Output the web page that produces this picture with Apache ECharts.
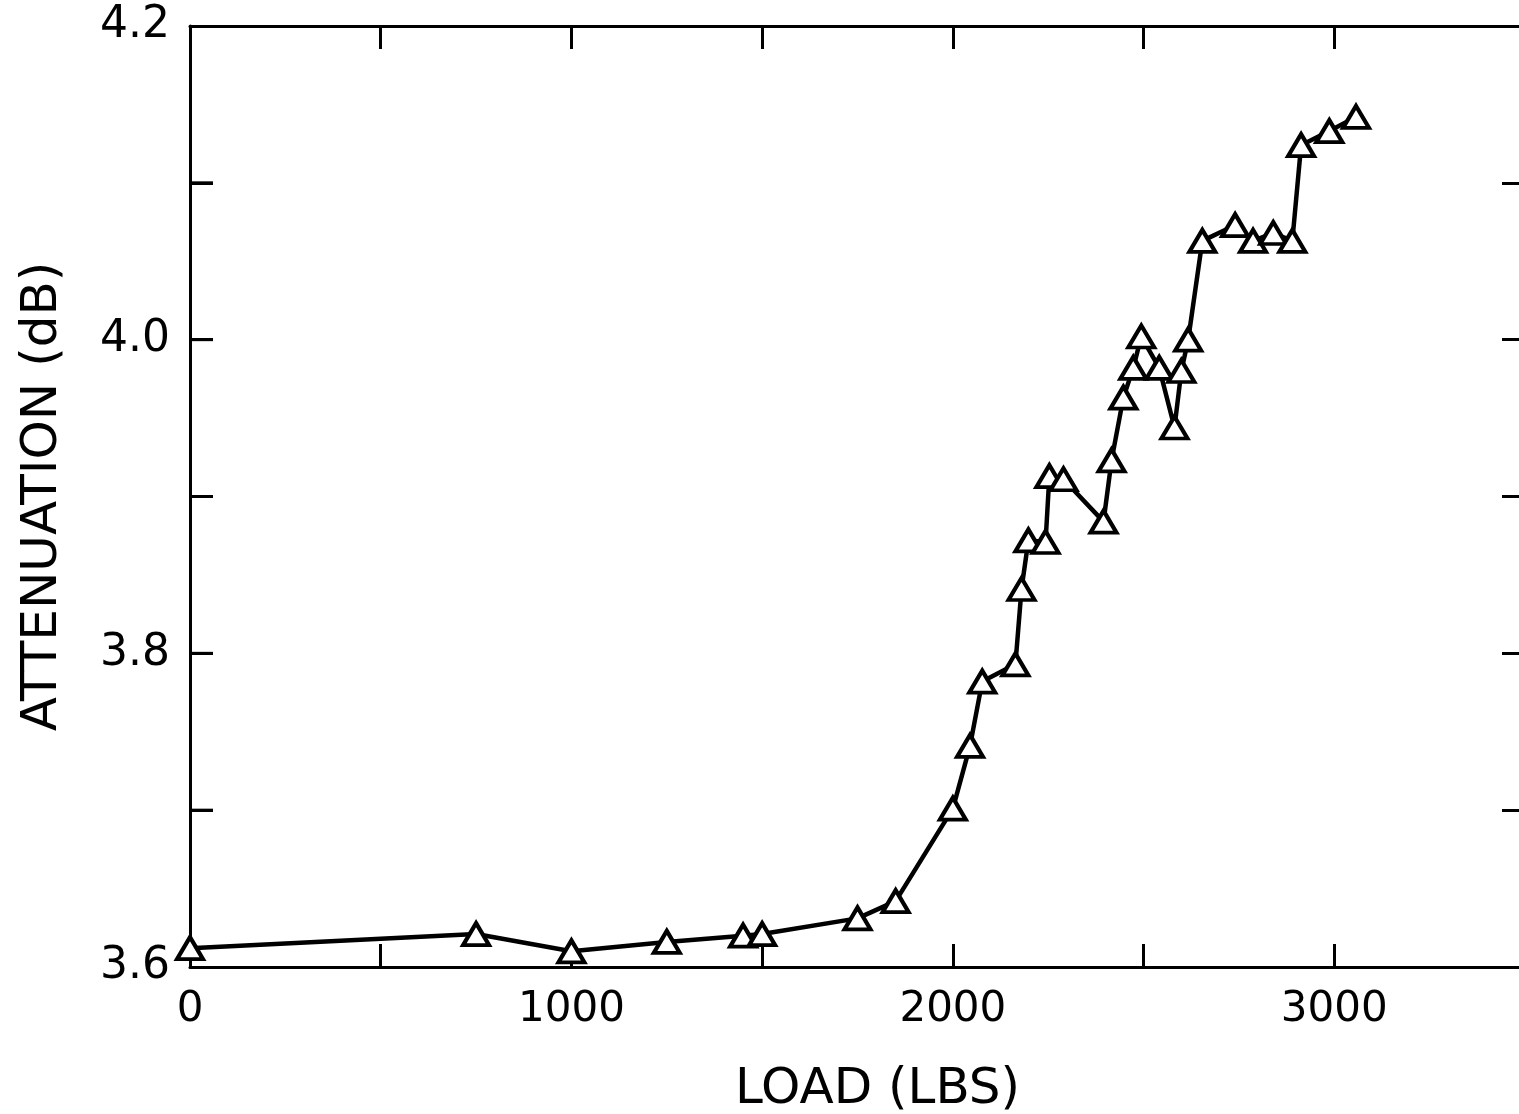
<!DOCTYPE html>
<html>
<head>
<meta charset="utf-8">
<script src="https://cdn.jsdelivr.net/npm/echarts@6/dist/echarts.min.js"></script>
<style>
html,body{margin:0;padding:0;background:#fff;overflow:hidden;}
#chart{width:1540px;height:1114px;}
</style>
</head>
<body>
<div id="chart"></div>
<script>
var loadLbs = [0, 750, 1000, 1250, 1450, 1500, 1750, 1850, 2000, 2045, 2077, 2164, 2180, 2198, 2243, 2253, 2290, 2395, 2416, 2447, 2473, 2494, 2541, 2581, 2599, 2617, 2654, 2740, 2787, 2840, 2890, 2913, 2987, 3057];
var attenuation = [3.612, 3.621, 3.61, 3.616, 3.62, 3.621, 3.631, 3.642, 3.701, 3.741, 3.782, 3.793, 3.841, 3.872, 3.871, 3.913, 3.911, 3.884, 3.923, 3.963, 3.982, 4.002, 3.982, 3.944, 3.98, 4.0, 4.063, 4.073, 4.063, 4.068, 4.063, 4.124, 4.133, 4.142];
var xLabelValues = [0, 1000, 2000, 3000];
var yLabelValues = ['3.6', '3.8', '4.0', '4.2'];
var leftTickValues = [3.7, 3.8, 3.9, 4.0, 4.1];

var points = loadLbs.map(function (x, i) { return [x, attenuation[i]]; });
var font = '"DejaVu Sans", sans-serif';
var tickLen = 23;
function axisLine() { return {show: true, onZero: false, lineStyle: {color: '#000', width: 3}}; }
function tick() { return {show: true, inside: true, length: tickLen, lineStyle: {color: '#000', width: 3}}; }

var chart = echarts.init(document.getElementById('chart'));
chart.setOption({
  backgroundColor: '#fff',
  animation: false,
  grid: {left: 190, top: 26, width: 1335, height: 941, containLabel: false, outerBoundsMode: 'none'},
  xAxis: [{
    type: 'value', position: 'bottom', min: 0, max: 3500, interval: 500,
    axisLine: axisLine(), axisTick: tick(), splitLine: {show: false},
    axisLabel: {
      color: '#000', fontFamily: font, fontSize: 42, margin: 22,
      formatter: function (v) { return xLabelValues.indexOf(v) >= 0 ? String(v) : ''; }
    },
    name: 'LOAD (LBS)', nameLocation: 'middle', nameGap: 98,
    nameTextStyle: {color: '#000', fontFamily: font, fontSize: 50, padding: [0, 0, 0, 40]}
  }, {
    type: 'value', position: 'top', min: 0, max: 3500, interval: 500,
    axisLine: axisLine(), axisTick: tick(), axisLabel: {show: false}, splitLine: {show: false}
  }],
  yAxis: [{
    type: 'value', position: 'left', min: 3.6, max: 4.2, interval: 0.1,
    axisLine: axisLine(), axisTick: tick(), splitLine: {show: false},
    axisLabel: {
      color: '#000', fontFamily: font, fontSize: 44, margin: 20,
      formatter: function (v) { var s = v.toFixed(1); return yLabelValues.indexOf(s) >= 0 ? s : ''; }
    },
    name: 'ATTENUATION (dB)', nameLocation: 'middle', nameGap: 122, nameRotate: 90,
    nameTextStyle: {color: '#000', fontFamily: font, fontSize: 50}
  }, {
    type: 'value', position: 'right', min: 3.6, max: 4.2, interval: 0.1,
    axisLine: axisLine(), axisTick: tick(), axisLabel: {show: false}, splitLine: {show: false}
  }],
  series: [{
    type: 'custom', xAxisIndex: 0, yAxisIndex: 0, silent: true, clip: false, z: 5,
    data: leftTickValues.map(function (v) { return [0, v]; }),
    renderItem: function (params, api) {
      var p = api.coord([api.value(0), api.value(1)]);
      return {
        type: 'line',
        shape: {x1: p[0], y1: p[1], x2: p[0] + tickLen, y2: p[1]},
        style: {stroke: '#000', lineWidth: 3}
      };
    }
  }, {
    type: 'line', xAxisIndex: 0, yAxisIndex: 0, data: points,
    symbol: 'triangle', symbolSize: [26, 22], showAllSymbol: true,
    lineStyle: {color: '#000', width: 4.5},
    itemStyle: {color: '#fff', borderColor: '#000', borderWidth: 4},
    z: 3
  }]
});
</script>
</body>
</html>
